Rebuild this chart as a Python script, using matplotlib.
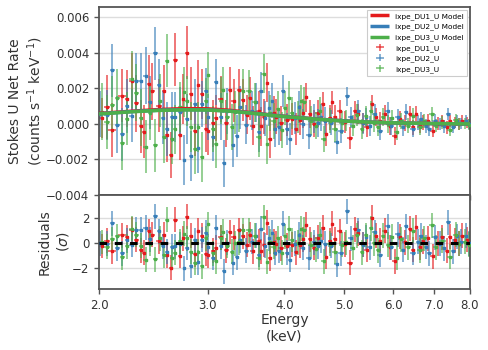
import numpy as np
import matplotlib
matplotlib.use('Agg')
import matplotlib.pyplot as plt
from matplotlib.ticker import FixedLocator, NullLocator, FuncFormatter
from matplotlib.colors import to_rgba

# model curves (Stokes U, 1e-3 counts/s/keV)
model_e = [2.0, 2.25, 2.5, 2.75, 3.0, 3.25, 3.5, 3.75, 4.0, 4.5, 5.0, 5.5, 6.0, 6.5, 7.0, 7.5, 8.0]
model_du1 = [0.58, 0.70, 0.80, 0.85, 0.84, 0.76, 0.64, 0.52, 0.42, 0.27, 0.16, 0.09, 0.05, 0.03, 0.01, 0.00, -0.01]
model_du2 = [0.56, 0.68, 0.76, 0.79, 0.78, 0.72, 0.62, 0.51, 0.41, 0.26, 0.16, 0.09, 0.05, 0.03, 0.01, 0.00, -0.01]
model_du3 = [0.55, 0.67, 0.75, 0.78, 0.77, 0.71, 0.61, 0.50, 0.40, 0.26, 0.15, 0.09, 0.05, 0.03, 0.01, 0.00, -0.01]

# DU1 data
e_du1 = [2.02, 2.06, 2.10, 2.18, 2.22, 2.26, 2.30, 2.34, 2.37, 2.41,
         2.44, 2.50, 2.55, 2.58, 2.62, 2.66, 2.71, 2.74, 2.78, 2.82,
         2.86, 2.90, 2.94, 2.98, 3.01, 3.06, 3.10, 3.15, 3.22, 3.26,
         3.31, 3.38, 3.42, 3.48, 3.51, 3.55, 3.63, 3.66, 3.70, 3.75,
         3.79, 3.84, 3.88, 3.95, 4.04, 4.11, 4.18, 4.24, 4.29, 4.34,
         4.40, 4.46, 4.53, 4.62, 4.68, 4.74, 4.78, 4.83, 4.92, 5.01,
         5.11, 5.21, 5.27, 5.36, 5.44, 5.55, 5.64, 5.71, 5.82, 5.93,
         6.04, 6.16, 6.27, 6.39, 6.47, 6.55, 6.63, 6.71, 6.83, 6.96,
         7.10, 7.22, 7.33, 7.43, 7.56, 7.67, 7.78, 7.92]
u_du1 = [0.32, 0.96, -0.36, 1.58, 1.40, 2.40, 1.14, -0.15, -0.45, 2.25,
         1.82, 1.01, 1.82, -0.65, -1.76, 3.60, -0.62, 1.40, 4.00, 1.69,
         -0.43, 2.20, 1.67, -0.30, -0.43, 0.02, 0.32, 1.40, 0.02, 1.90,
         1.30, 1.90, 1.33, 0.50, 1.43, -0.11, 0.73, -0.15, 0.40, 2.30,
         -0.83, 0.58, 0.40, 0.02, 0.20, 0.26, -0.30, 0.20, 0.58, 1.48,
         0.55, 0.00, 0.58, 1.10, -0.55, 0.35, 1.20, 0.40, 0.73, 0.10,
         -0.80, 0.73, 0.55, 0.05, -0.20, 1.10, 0.36, 0.17, 0.55, -0.11,
         -0.68, 0.26, 0.06, 0.55, -0.20, 0.55, -0.11, 0.07, 0.17, -0.39,
         0.00, 0.17, -0.21, 0.17, 0.07, -0.02, 0.17, 0.07]
err_du1 = [1.1, 1.8, 1.5, 1.5, 1.6, 1.6, 1.6, 1.5, 1.5, 1.6,
           1.6, 1.5, 1.5, 1.5, 1.3, 1.5, 1.4, 1.4, 1.5, 1.5,
           1.4, 1.4, 1.4, 1.3, 1.3, 1.3, 1.3, 1.3, 1.3, 1.3,
           1.2, 1.2, 1.2, 1.1, 1.2, 1.1, 1.1, 1.1, 1.0, 1.1,
           1.1, 1.0, 1.0, 1.0, 0.9, 0.9, 0.9, 0.85, 0.8, 0.8,
           0.8, 0.75, 0.75, 0.7, 0.7, 0.7, 0.65, 0.65, 0.6, 0.6,
           0.6, 0.55, 0.55, 0.55, 0.55, 0.5, 0.5, 0.5, 0.5, 0.5,
           0.5, 0.45, 0.45, 0.45, 0.42, 0.42, 0.4, 0.4, 0.4, 0.38,
           0.36, 0.35, 0.35, 0.33, 0.32, 0.32, 0.3, 0.3]

# DU2 data
e_du2 = [2.01, 2.06, 2.10, 2.14, 2.18, 2.22, 2.26, 2.30, 2.34, 2.38,
         2.42, 2.47, 2.50, 2.54, 2.58, 2.63, 2.66, 2.71, 2.75, 2.78,
         2.82, 2.86, 2.90, 2.94, 2.98, 3.01, 3.06, 3.10, 3.15, 3.19,
         3.23, 3.30, 3.35, 3.39, 3.47, 3.54, 3.59, 3.63, 3.66, 3.72,
         3.78, 3.82, 3.86, 3.92, 3.98, 4.04, 4.08, 4.16, 4.23, 4.28,
         4.39, 4.47, 4.53, 4.59, 4.66, 4.76, 4.86, 4.94, 5.06, 5.12,
         5.26, 5.36, 5.43, 5.50, 5.61, 5.71, 5.88, 5.96, 6.11, 6.23,
         6.30, 6.46, 6.58, 6.67, 6.78, 6.87, 7.02, 7.14, 7.26, 7.38,
         7.52, 7.63, 7.75, 7.89, 7.97]
u_du2 = [0.55, 0.50, 3.00, -0.06, -0.60, 1.00, 0.45, 2.40, 2.40, 2.70,
         1.20, 3.96, 2.16, 0.35, -0.30, 0.36, 0.40, 0.64, -2.03, 0.26,
         -1.80, 1.10, -1.39, 1.10, 1.86, 0.36, -0.77, 2.33, 0.40, -2.23,
         0.73, -1.22, -0.68, 0.92, -0.06, 0.73, 1.20, -0.49, 1.82, 0.30,
         0.86, 1.30, -0.32, -0.20, 1.82, -0.32, -0.83, 0.30, 0.92, 0.00,
         -0.64, 0.30, 0.03, 0.36, 0.17, 0.05, -1.00, -0.40, 1.54, 0.36,
         0.73, 0.03, 0.36, -0.11, 0.55, -0.39, 0.73, -0.11, 0.36, -0.21,
         0.64, -0.30, 0.07, 0.26, -0.11, -0.30, 0.17, -0.02, -0.15, 0.55,
         -0.21, 0.17, 0.02, 0.17, -0.02]
err_du2 = [1.3, 1.4, 1.5, 1.6, 1.5, 1.5, 1.5, 1.6, 1.6, 1.6,
           1.5, 1.5, 1.5, 1.5, 1.5, 1.4, 1.4, 1.4, 1.4, 1.4,
           1.4, 1.4, 1.4, 1.3, 1.3, 1.3, 1.3, 1.3, 1.3, 1.3,
           1.3, 1.2, 1.2, 1.2, 1.1, 1.1, 1.1, 1.1, 1.1, 1.0,
           1.0, 1.0, 1.0, 1.0, 0.9, 0.9, 0.9, 0.9, 0.9, 0.85,
           0.8, 0.8, 0.8, 0.75, 0.75, 0.7, 0.7, 0.7, 0.55, 0.6,
           0.6, 0.6, 0.55, 0.55, 0.55, 0.5, 0.5, 0.5, 0.45, 0.45,
           0.45, 0.42, 0.4, 0.4, 0.4, 0.38, 0.36, 0.35, 0.35, 0.33,
           0.32, 0.32, 0.3, 0.3, 0.3]

# DU3 data
e_du3 = [2.02, 2.06, 2.10, 2.14, 2.18, 2.22, 2.26, 2.30, 2.34, 2.38,
         2.42, 2.47, 2.51, 2.55, 2.58, 2.63, 2.66, 2.71, 2.75, 2.78,
         2.82, 2.86, 2.90, 2.94, 2.98, 3.01, 3.06, 3.10, 3.15, 3.18,
         3.23, 3.29, 3.33, 3.37, 3.42, 3.50, 3.58, 3.63, 3.70, 3.75,
         3.79, 3.84, 3.91, 3.96, 4.01, 4.07, 4.12, 4.20, 4.26, 4.31,
         4.42, 4.50, 4.57, 4.63, 4.74, 4.84, 4.96, 5.03, 5.16, 5.25,
         5.34, 5.43, 5.52, 5.59, 5.68, 5.78, 5.89, 5.98, 6.08, 6.19,
         6.35, 6.46, 6.63, 6.75, 6.94, 7.04, 7.22, 7.43, 7.58, 7.67,
         7.84, 7.97]
u_du3 = [0.68, 0.10, 1.07, 1.46, -1.10, 0.28, 2.50, 1.75, 0.35, -1.28,
         0.60, -1.22, 1.30, -0.73, 3.55, -0.88, -0.32, 0.96, 1.80, 1.30,
         -0.20, -1.43, -0.20, -1.86, 1.26, 2.72, -0.30, -1.16, 1.30, 1.90,
         0.40, -0.20, 0.64, 0.73, 1.86, 1.82, 1.20, -0.77, 2.80, -1.15,
         0.60, 0.17, 0.83, -0.35, 0.90, 1.45, 0.58, 0.36, 1.30, 1.20,
         0.17, -0.11, 0.73, -0.86, 0.17, -0.30, 0.07, 0.17, -0.11, 0.50,
         -0.30, 0.45, 0.73, 0.07, -0.21, 0.36, -0.02, 0.30, -0.49, 0.17,
         -0.11, 0.45, -0.21, 0.17, 0.55, -0.11, 0.07, -0.36, 0.21, -0.02,
         0.02, -0.05]
err_du3 = [1.6, 1.5, 1.6, 1.6, 1.5, 1.5, 1.6, 1.6, 1.6, 1.5,
           1.5, 1.5, 1.5, 1.5, 1.5, 1.4, 1.4, 1.4, 1.4, 1.4,
           1.4, 1.4, 1.4, 1.4, 1.3, 1.3, 1.3, 1.3, 1.3, 1.3,
           1.3, 1.3, 1.2, 1.2, 1.2, 1.2, 1.1, 1.1, 1.1, 1.1,
           1.0, 1.0, 1.0, 1.0, 0.95, 0.95, 0.9, 0.9, 0.85, 0.85,
           0.8, 0.75, 0.75, 0.75, 0.7, 0.7, 0.65, 0.6, 0.6, 0.6,
           0.55, 0.55, 0.55, 0.55, 0.5, 0.5, 0.5, 0.5, 0.45, 0.45,
           0.42, 0.42, 0.4, 0.4, 0.38, 0.36, 0.35, 0.33, 0.32, 0.32,
           0.3, 0.3]

detectors = ['DU1', 'DU2', 'DU3']
colors = ['#e41a1c', '#377eb8', '#4daf4a']
energies = [e_du1, e_du2, e_du3]
rates = [u_du1, u_du2, u_du3]
errors = [err_du1, err_du2, err_du3]
models = [model_du1, model_du2, model_du3]

grey = '#555555'
text_c = '#333333'

fig = plt.figure(figsize=(4.89, 3.5), dpi=100)
ax = fig.add_axes([0.2025, 0.443, 0.7585, 0.537])
axr = fig.add_axes([0.2025, 0.174, 0.7585, 0.269], sharex=ax)

# models first so they come first in the legend
for det, c, m in zip(detectors, colors, models):
    ax.plot(model_e, np.array(m) * 1e-3, color=c, lw=2.5, zorder=5,
            label=f'ixpe_{det}_U Model', solid_capstyle='butt')

for det, c, e, u, s, m in zip(detectors, colors, energies, rates, errors, models):
    e = np.array(e)
    u = np.array(u) * 1e-3
    s = np.array(s) * 1e-3
    xe = np.gradient(e) / 2
    mod = np.interp(e, model_e, np.array(m) * 1e-3)
    res = (u - mod) / s
    ec = to_rgba(c, 0.6)
    ax.errorbar(e, u, xerr=xe, yerr=s, fmt='none', ecolor=ec, elinewidth=1.4,
                label=f'ixpe_{det}_U', zorder=2)
    ax.plot(e, u, ls='none', marker='s', ms=1.6, color=c, zorder=3)
    axr.errorbar(e, res, xerr=xe, yerr=np.ones_like(res), fmt='none', ecolor=ec,
                 elinewidth=1.4, zorder=2)
    axr.plot(e, res, ls='none', marker='s', ms=1.6, color=c, zorder=3)

axr.axhline(0, color='black', ls=(0, (2.5, 2.5)), lw=2.2, zorder=6)

for a in (ax, axr):
    a.set_xscale('log')
    a.set_xlim(2.0, 8.0)
    a.xaxis.set_major_locator(FixedLocator([2, 3, 4, 5, 6, 7, 8]))
    a.xaxis.set_minor_locator(NullLocator())
    a.xaxis.set_major_formatter(FuncFormatter(lambda v, p: f'{v:.1f}'))
    a.yaxis.grid(True, color='#dddddd', lw=1.0)
    a.set_axisbelow(True)
    for sp in a.spines.values():
        sp.set_color(grey)
        sp.set_linewidth(1.3)
    a.tick_params(colors=grey, labelcolor=text_c, labelsize=8.5, length=3.5, width=1)

ax.tick_params(labelbottom=False)
ax.set_ylim(-0.004, 0.00656)
ax.set_yticks([-0.004, -0.002, 0.0, 0.002, 0.004, 0.006])
axr.set_ylim(-3.7, 3.85)
axr.set_yticks([-2, 0, 2])

ax.set_ylabel('Stokes U Net Rate\n(counts s$^{-1}$ keV$^{-1}$)', fontsize=10,
              color=text_c, labelpad=1)
axr.set_ylabel('Residuals\n($\\sigma$)', fontsize=10, color=text_c, labelpad=1)
axr.set_xlabel('Energy\n(keV)', fontsize=10, color=text_c, labelpad=1)
fig.align_ylabels([ax, axr])

leg = ax.legend(loc='upper right', fontsize=5.3, frameon=True, framealpha=1,
                edgecolor='#cccccc', fancybox=False, handlelength=2.6,
                borderaxespad=0.4, labelspacing=0.5)
leg.get_frame().set_linewidth(0.8)

fig.savefig('out.png', dpi=100)
